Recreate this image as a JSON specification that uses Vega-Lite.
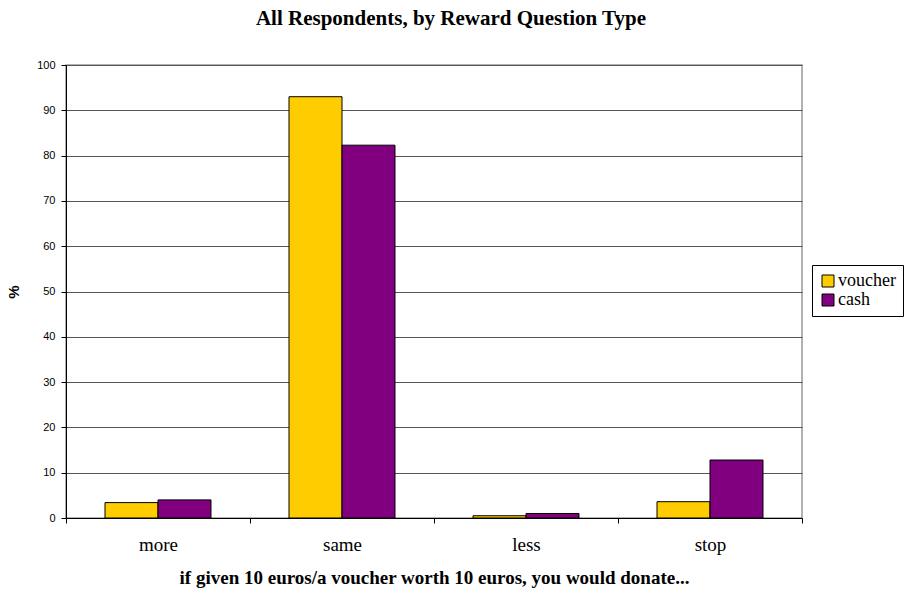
{
  "$schema": "https://vega.github.io/schema/vega-lite/v6.json",
  "width": 736,
  "height": 453,
  "autosize": {"type": "none"},
  "padding": {"left": 66, "top": 65, "right": 102, "bottom": 78},
  "background": "white",
  "title": {
    "text": "All Respondents, by Reward Question Type",
    "font": "Liberation Serif",
    "fontSize": 21,
    "fontWeight": "bold",
    "color": "black",
    "anchor": "middle",
    "dx": 17,
    "offset": 30
  },
  "data": {
    "values": [
      {"answer": "more", "reward": "voucher", "pct": 3.4},
      {"answer": "more", "reward": "cash", "pct": 4.0},
      {"answer": "same", "reward": "voucher", "pct": 93.0},
      {"answer": "same", "reward": "cash", "pct": 82.3},
      {"answer": "less", "reward": "voucher", "pct": 0.5},
      {"answer": "less", "reward": "cash", "pct": 1.0},
      {"answer": "stop", "reward": "voucher", "pct": 3.6},
      {"answer": "stop", "reward": "cash", "pct": 12.8}
    ]
  },
  "mark": {"type": "bar", "stroke": "black", "strokeWidth": 1, "opacity": 1},
  "encoding": {
    "x": {
      "field": "answer",
      "type": "nominal",
      "sort": ["more", "same", "less", "stop"],
      "scale": {"paddingInner": 0, "paddingOuter": 0},
      "axis": {
        "title": "if given 10 euros/a voucher worth 10 euros, you would donate...",
        "titleFont": "Liberation Serif",
        "titleFontSize": 19,
        "titleFontWeight": "bold",
        "titleColor": "black",
        "titlePadding": 14,
        "labelFont": "Liberation Serif",
        "labelFontSize": 19,
        "labelColor": "black",
        "labelAngle": 0,
        "labelPadding": 12,
        "tickBand": "extent",
        "tickColor": "black",
        "tickSize": 5,
        "domainColor": "black",
        "grid": false
      }
    },
    "xOffset": {
      "field": "reward",
      "type": "nominal",
      "sort": ["voucher", "cash"],
      "scale": {"paddingInner": 0, "paddingOuter": 0.736}
    },
    "y": {
      "field": "pct",
      "type": "quantitative",
      "scale": {"domain": [0, 100], "nice": false},
      "axis": {
        "title": "%",
        "titleFont": "Liberation Sans",
        "titleFontSize": 15,
        "titleFontWeight": "bold",
        "titleColor": "black",
        "titleX": -45,
        "values": [0, 10, 20, 30, 40, 50, 60, 70, 80, 90, 100],
        "labelFont": "Liberation Sans",
        "labelFontSize": 11,
        "labelColor": "black",
        "labelPadding": 6,
        "tickColor": "black",
        "tickSize": 5,
        "domainColor": "black",
        "grid": true,
        "gridColor": "#555555",
        "gridWidth": 1
      }
    },
    "color": {
      "field": "reward",
      "type": "nominal",
      "scale": {"domain": ["voucher", "cash"], "range": ["#FFCC00", "#800080"]},
      "legend": {
        "title": null,
        "orient": "none",
        "legendX": 746,
        "legendY": 200,
        "symbolType": "square",
        "symbolSize": 144,
        "symbolStrokeColor": "black",
        "symbolStrokeWidth": 1,
        "symbolOpacity": 1,
        "labelFont": "Liberation Serif",
        "labelFontSize": 18,
        "labelColor": "black",
        "labelOffset": 1,
        "rowPadding": 1,
        "strokeColor": "black",
        "fillColor": "white",
        "padding": 7
      }
    }
  },
  "config": {
    "view": {"stroke": "#999999", "strokeWidth": 1.5},
    "legend": {"labelFont": "Liberation Serif"}
  }
}
